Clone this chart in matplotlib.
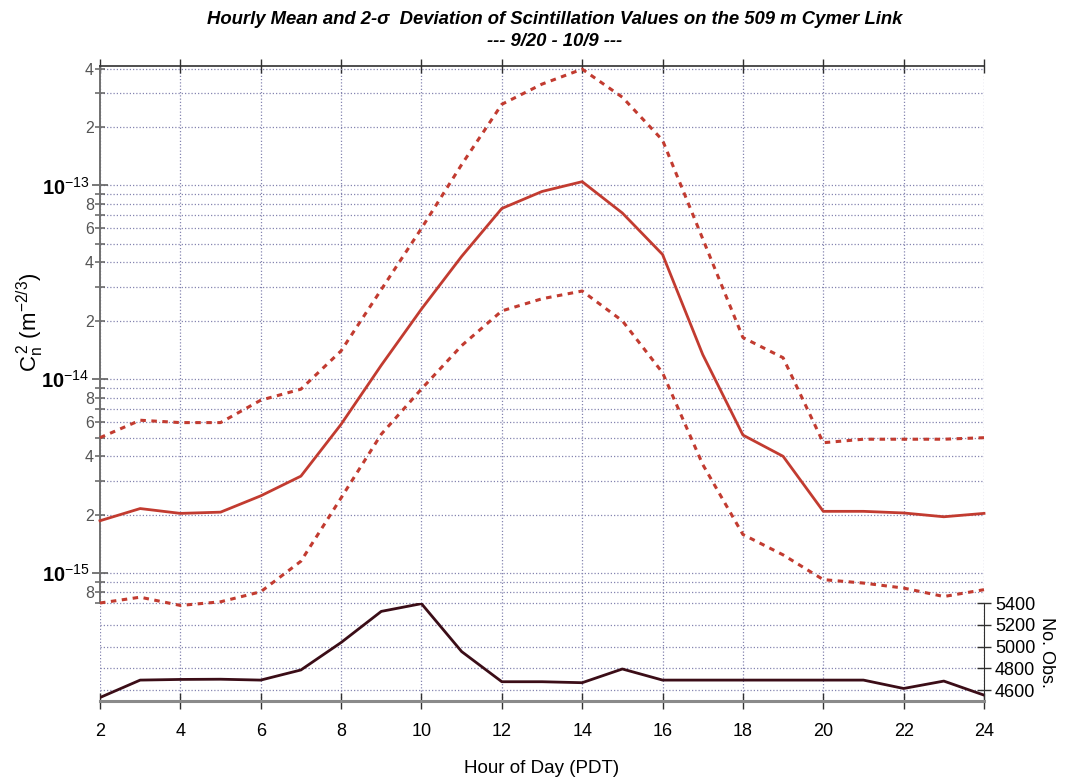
import numpy as np
import matplotlib.pyplot as plt
from matplotlib.ticker import FixedLocator, FuncFormatter, NullFormatter

# hour of day (PDT)
hours = list(range(2, 25))

# hourly mean Cn^2 and mean +/- 2 sigma (m^-2/3)
cn2_mean = [1.86e-15, 2.15e-15, 2.03e-15, 2.06e-15, 2.50e-15, 3.16e-15, 5.85e-15,
            1.18e-14, 2.30e-14, 4.30e-14, 7.60e-14, 9.30e-14, 1.045e-13, 7.20e-14,
            4.40e-14, 1.34e-14, 5.15e-15, 4.00e-15, 2.08e-15, 2.08e-15, 2.04e-15,
            1.95e-15, 2.03e-15]
cn2_upper = [4.99e-15, 6.14e-15, 5.97e-15, 5.97e-15, 7.79e-15, 8.88e-15, 1.40e-14,
             2.90e-14, 6.00e-14, 1.28e-13, 2.62e-13, 3.33e-13, 3.98e-13, 2.85e-13,
             1.71e-13, 5.30e-14, 1.64e-14, 1.29e-14, 4.70e-15, 4.90e-15, 4.90e-15,
             4.90e-15, 4.99e-15]
cn2_lower = [7.0e-16, 7.5e-16, 6.8e-16, 7.1e-16, 8.0e-16, 1.15e-15, 2.44e-15,
             5.2e-15, 8.9e-15, 1.49e-14, 2.25e-14, 2.60e-14, 2.85e-14, 2.00e-14,
             1.08e-14, 3.63e-15, 1.58e-15, 1.24e-15, 9.24e-16, 8.87e-16, 8.36e-16,
             7.56e-16, 8.2e-16]

# number of observations per hour
n_obs = [4532, 4692, 4698, 4700, 4692, 4785, 5037, 5323, 5394, 4954, 4677, 4677,
         4668, 4794, 4692, 4692, 4692, 4692, 4692, 4692, 4615, 4683, 4554]

x_ticks = list(range(2, 25, 2))
obs_ticks = [4600, 4800, 5000, 5200, 5400]

plt.rcParams['font.family'] = ['Liberation Sans', 'DejaVu Sans']
plt.rcParams['mathtext.fontset'] = 'custom'
plt.rcParams['mathtext.rm'] = 'Liberation Sans'
plt.rcParams['mathtext.it'] = 'Liberation Sans:italic'
plt.rcParams['mathtext.bf'] = 'Liberation Sans:bold'

red = '#c23b30'
grid_kw = dict(color='#8585b0', linestyle=(0, (1, 1.6)), linewidth=0.9)

W, H = 1069, 780
fig = plt.figure(figsize=(W / 100, H / 100), dpi=100)
x0, x1 = 100, 984
y_top, y_mid, y_bot = 66, 603, 701
axo = fig.add_axes([x0 / W, 1 - y_bot / H, (x1 - x0) / W, (y_bot - y_mid) / H])
ax = fig.add_axes([x0 / W, 1 - y_mid / H, (x1 - x0) / W, (y_mid - y_top) / H])
ax.patch.set_visible(False)

# ---- upper panel: Cn^2 on a log scale
ax.plot(hours, cn2_mean, color=red, lw=2.0, clip_on=False, zorder=3)
ax.plot(hours, cn2_upper, color=red, lw=2.2, linestyle=(0, (1.8, 1.8)), clip_on=False, zorder=3)
ax.plot(hours, cn2_lower, color=red, lw=2.2, linestyle=(0, (1.8, 1.8)), clip_on=False, zorder=3)
ax.set_yscale('log')
ax.set_ylim(7e-16, 4.13e-13)
ax.set_xlim(2, 24)

majors = [1e-15, 1e-14, 1e-13]
minors = [k * 10.0 ** e for e in (-16, -15, -14, -13) for k in range(2, 10)]
minors = [v for v in minors if 6.9e-16 < v < 4.2e-13]
ax.yaxis.set_major_locator(FixedLocator(majors))
ax.yaxis.set_minor_locator(FixedLocator(minors))
ax.yaxis.set_major_formatter(FuncFormatter(
    lambda v, p: r'$\mathbf{10}^{%d}$' % round(np.log10(v))))


def minor_label(v, p):
    k = round(v / 10.0 ** np.floor(np.log10(v) + 1e-9))
    return str(k) if k in (2, 4, 6, 8) else ''


ax.yaxis.set_minor_formatter(FuncFormatter(minor_label))
ax.tick_params(axis='y', which='major', direction='inout', length=11, width=1.2,
               color='#606060', labelsize=14.5, pad=2)
ax.tick_params(axis='y', which='minor', direction='inout', length=7, width=1.1,
               color='#606060', labelsize=11.5, labelcolor='#555555', pad=1)
for t in ax.yaxis.get_minorticklabels():
    t.set_family(['Liberation Sans Narrow', 'Liberation Sans'])

ax.xaxis.tick_top()
ax.xaxis.set_major_locator(FixedLocator(x_ticks))
ax.xaxis.set_major_formatter(NullFormatter())
ax.tick_params(axis='x', which='major', direction='inout', length=10, width=1,
               color='#303030')
ax.grid(True, which='both', axis='y', **grid_kw)
ax.grid(True, which='major', axis='x', **grid_kw)
ax.spines['right'].set_visible(False)
ax.spines['bottom'].set_visible(False)
ax.spines['top'].set_color('#303030')
ax.spines['top'].set_linewidth(1.2)
ax.spines['left'].set_color('#707070')
ax.spines['left'].set_linewidth(1.4)

# ---- lower panel: number of observations
axo.plot(hours, n_obs, color='#3b0d17', lw=2.0, zorder=3)
axo.set_xlim(2, 24)
axo.set_ylim(4500, 5400)
axo.xaxis.set_major_locator(FixedLocator(x_ticks))
axo.yaxis.set_major_locator(FixedLocator(obs_ticks))
axo.yaxis.tick_right()
axo.yaxis.set_label_position('right')
axo.tick_params(axis='y', direction='inout', length=10, width=1, color='#303030',
                labelsize=13, pad=3)
axo.tick_params(axis='x', direction='inout', length=11, width=1, color='#303030',
                labelsize=13, pad=10)
axo.grid(True, which='major', **grid_kw)
axo.spines['left'].set_visible(False)
axo.spines['top'].set_visible(False)
axo.spines['bottom'].set_color('#8a8a8a')
axo.spines['bottom'].set_linewidth(2.2)
axo.spines['right'].set_color('#303030')
axo.set_ylabel('No. Obs.', rotation=-90, fontsize=13, labelpad=14)
axo.set_xlabel('Hour of Day (PDT)', fontsize=13.5, labelpad=15)

fig.text(30 / W, 1 - 322 / H, r'C$_{\mathrm{n}}^{\,2}$ (m$^{-2/3}$)', rotation=90,
         ha='center', va='center', fontsize=16)
fig.text(555 / W, 1 - 19 / H,
         'Hourly Mean and 2-σ  Deviation of Scintillation Values on the 509 m Cymer Link',
         ha='center', va='center', fontsize=13.3, fontweight='bold', style='italic')
fig.text(555 / W, 1 - 42 / H, '--- 9/20 - 10/9 ---', ha='center', va='center',
         fontsize=13.3, fontweight='bold', style='italic')

fig.savefig('out.png', dpi=100)
